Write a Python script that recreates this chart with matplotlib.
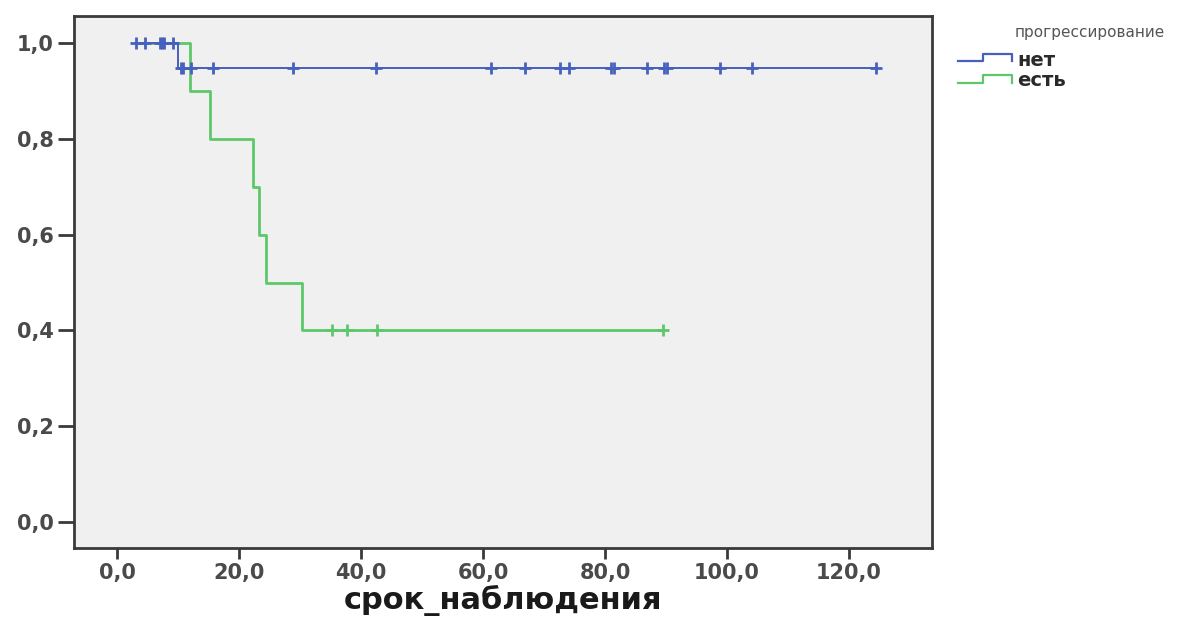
import numpy as np
import matplotlib
matplotlib.use("Agg")
import matplotlib.pyplot as plt
from matplotlib.lines import Line2D
from matplotlib.ticker import FuncFormatter

# Follow-up times (months) and event flags (1 = event, 0 = censored)
net_times = [3.1, 4.6, 7.0, 7.4, 7.7, 9.2, 10.0, 10.5, 10.8, 12.1, 15.7, 28.8,
             42.4, 61.3, 66.9, 72.6, 74.1, 81.0, 81.4, 86.9, 89.6, 90.2,
             98.9, 104.1, 124.4]
net_events = [0, 0, 0, 0, 0, 0, 1, 0, 0, 0, 0, 0,
              0, 0, 0, 0, 0, 0, 0, 0, 0, 0,
              0, 0, 0]

est_times = [12.0, 15.2, 22.3, 23.3, 24.4, 30.3, 35.2, 37.7, 42.6, 89.5]
est_events = [1, 1, 1, 1, 1, 1, 0, 0, 0, 0]

group_labels = ["нет", "есть"]
legend_title = "прогрессирование"
x_ticks = [0, 20, 40, 60, 80, 100, 120]
y_ticks = [0.0, 0.2, 0.4, 0.6, 0.8, 1.0]
x_label = "срок_наблюдения"

BLUE = "#4660bd"
GREEN = "#5cc86a"
W, H = 1180, 619


def kaplan_meier(times, events, start):
    t = np.asarray(times, float)
    e = np.asarray(events, int)
    order = np.lexsort((1 - e, t))
    t, e = t[order], e[order]
    n = len(t)
    xs, ys = [start], [1.0]
    cens_x, cens_y = [], []
    s = 1.0
    for i, (ti, ei) in enumerate(zip(t, e)):
        at_risk = n - i
        if ei:
            s *= (at_risk - 1) / at_risk
            xs.append(ti)
            ys.append(s)
        else:
            cens_x.append(ti)
            cens_y.append(s)
    xs.append(t.max())
    ys.append(s)
    return xs, ys, cens_x, cens_y


start = min(min(net_times), min(est_times))

fig = plt.figure(figsize=(W / 100, H / 100), dpi=100, facecolor="white")
ax = fig.add_axes([74 / W, 1 - 548 / H, (932 - 74) / W, (548 - 16) / H])
ax.set_facecolor("#f0f0f0")

for times, events, color, lw, z in [(est_times, est_events, GREEN, 2.0, 2),
                                     (net_times, net_events, BLUE, 1.4, 3)]:
    xs, ys, cx, cy = kaplan_meier(times, events, start)
    ax.step(xs, ys, where="post", color=color, lw=lw, zorder=z)
    ax.plot(cx, cy, linestyle="none", marker="+", markersize=9,
            markeredgewidth=2.0, color=color, zorder=z)

ax.set_xlim(-7.05, 133.6)
ax.set_ylim(-0.0543, 1.0564)
ax.set_xticks(x_ticks)
ax.set_yticks(y_ticks)
ax.xaxis.set_major_formatter(FuncFormatter(lambda v, p: f"{v:.1f}".replace(".", ",")))
ax.yaxis.set_major_formatter(FuncFormatter(lambda v, p: f"{v:.1f}".replace(".", ",")))

for sp in ax.spines.values():
    sp.set_color("#3a3a3a")
    sp.set_linewidth(2.0)

ax.tick_params(axis="y", length=11.5, width=2, color="#3a3a3a", pad=3,
               labelsize=15, labelcolor="#4a4a4a")
ax.tick_params(axis="x", length=8, width=2, color="#3a3a3a", pad=3,
               labelsize=15, labelcolor="#4a4a4a")
for lab in ax.get_xticklabels() + ax.get_yticklabels():
    lab.set_fontweight("bold")
    lab.set_family("DejaVu Sans")

fig.text(503 / W, 1 - 609 / H, x_label, ha="center", va="baseline",
         fontsize=22, fontweight="bold", color="#1a1a1a", family="DejaVu Sans")


def fx(px):
    return px / W


def fy(py):
    return 1 - py / H


# Legend drawn with step-shaped key symbols
fig.text(fx(1090), fy(32), legend_title, ha="center", va="center",
         fontsize=11, color="#555555", family="DejaVu Sans")

keys = [(group_labels[0], BLUE, 60.5, 54, 61),
        (group_labels[1], GREEN, 83, 75, 80)]
for label, color, low, high, ty in keys:
    px = [958, 983, 983, 1012, 1012]
    py = [low, low, high, high, low]
    fig.add_artist(Line2D([fx(v) for v in px], [fy(v) for v in py],
                          transform=fig.transFigure, color=color, lw=1.6))
    fig.text(fx(1017), fy(ty), label, ha="left", va="center", fontsize=14,
             fontweight="bold", color="#2a2a2a", family="DejaVu Sans")

fig.savefig("out.png", dpi=100, facecolor="white")
